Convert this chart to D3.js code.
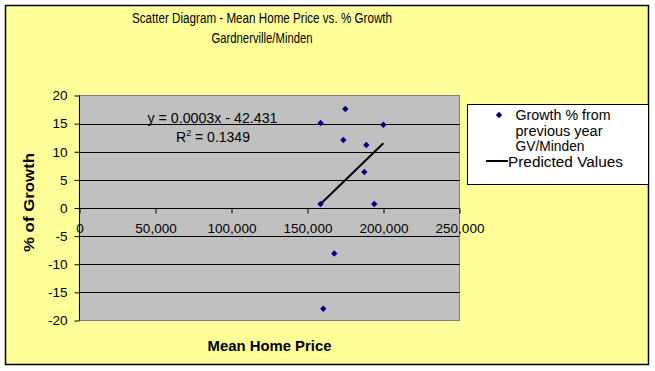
<!DOCTYPE html>
<html>
<head>
<meta charset="utf-8">
<script src="https://cdnjs.cloudflare.com/ajax/libs/d3/7.8.5/d3.min.js"></script>
<style>
	body { margin: 0; background: #fff; }
	svg { display: block; font-family: "Liberation Sans", Arial, sans-serif; }
</style>
</head>
<body>
<div class="chart"></div>
<script>
// data
var prices = [158600, 174900, 199900, 173600, 188700, 187400, 158600, 193900, 167600, 160400];
var growth = [15.1, 17.6, 14.8, 12.1, 11.2, 6.4, 0.7, 0.7, -8.1, -17.9];
var predPrices = [158600, 199900];
var predGrowth = [0.7, 11.5];
var xTicks = [0, 50000, 100000, 150000, 200000, 250000];
var yTicks = [-20, -15, -10, -5, 0, 5, 10, 15, 20];
var titleLines = ["Scatter Diagram - Mean Home Price vs. % Growth", "Gardnerville/Minden"];
var legendLabels = ["Growth % from", "previous year", "GV/Minden", "Predicted Values"];

var colors = {
	bg: "#ffff99",
	plot: "#c0c0c0",
	plotBorder: "#808080",
	marker: "#000080",
	ink: "#000"
};

var W = 655, H = 371;
var plot = {left: 79.5, right: 459.5, top: 95.5, bottom: 320.5};

var svg = d3.select(".chart").append("svg")
	.attr("width", W)
	.attr("height", H);

// chart frame
svg.append("rect")
	.attr("x", 5.5).attr("y", 5.5)
	.attr("width", 643).attr("height", 359)
	.style("fill", colors.bg)
	.style("stroke", colors.ink)
	.style("stroke-width", 1.5);

var x = d3.scaleLinear().domain([0, 250000]).range([plot.left, plot.right]);
var y = d3.scaleLinear().domain([-20, 20]).range([plot.bottom, plot.top]);

// plot area
svg.append("rect")
	.attr("x", plot.left).attr("y", plot.top)
	.attr("width", plot.right - plot.left)
	.attr("height", plot.bottom - plot.top)
	.style("fill", colors.plot)
	.style("stroke", colors.plotBorder)
	.style("stroke-width", 1);

// gridlines
svg.append("g").selectAll("line")
	.data(yTicks.filter(function(d){ return d != 20 && d != -20 && d != 0; }))
	.enter().append("line")
		.attr("x1", plot.left).attr("x2", plot.right)
		.attr("y1", function(d){ return Math.round(y(d)) + 0.5; })
		.attr("y2", function(d){ return Math.round(y(d)) + 0.5; })
		.style("stroke", colors.ink);

var fmtX = d3.format(",");

// y axis
var yAxis = svg.append("g")
	.attr("transform", "translate(" + plot.left + ",0)")
	.call(d3.axisLeft(y).tickValues(yTicks).tickSize(5).tickPadding(7)
		.tickFormat(function(d){ return String(d).replace("\u2212", "-"); }));

// x axis sits on zero
var xAxis = svg.append("g")
	.attr("transform", "translate(0," + (Math.round(y(0)) + 0.5) + ")")
	.call(d3.axisBottom(x).tickValues(xTicks).tickSize(5).tickPadding(10)
		.tickFormat(function(d){ return fmtX(d); }));

[yAxis, xAxis].forEach(function(ax){
	ax.select(".domain").remove();
	ax.selectAll("line").style("stroke", colors.ink);
	ax.selectAll("text")
		.style("font-family", "Liberation Sans, Arial, sans-serif")
		.style("font-size", "13.5px")
		.style("fill", colors.ink);
});

svg.append("line")
	.attr("x1", plot.left).attr("x2", plot.right)
	.attr("y1", Math.round(y(0)) + 0.5).attr("y2", Math.round(y(0)) + 0.5)
	.style("stroke", colors.ink);
svg.append("line")
	.attr("x1", plot.left).attr("x2", plot.left)
	.attr("y1", plot.top).attr("y2", plot.bottom)
	.style("stroke", colors.ink);

// predicted values line
var line = d3.line()
	.x(function(d){ return x(d[0]); })
	.y(function(d){ return y(d[1]); });

svg.append("path")
	.datum(d3.zip(predPrices, predGrowth))
	.attr("d", line)
	.style("fill", "none")
	.style("stroke", colors.ink)
	.style("stroke-width", 2);

// markers
var diamond = d3.symbol().type(d3.symbolDiamond2).size(26);

svg.append("g").selectAll("path")
	.data(d3.zip(prices, growth))
	.enter().append("path")
		.attr("d", diamond)
		.attr("transform", function(d){ return "translate(" + x(d[0]) + "," + y(d[1]) + ")"; })
		.style("fill", colors.marker);

// trendline equation
svg.append("text")
	.attr("x", 147.5).attr("y", 122.5)
	.attr("textLength", 130).attr("lengthAdjust", "spacingAndGlyphs")
	.style("font-size", "14px")
	.text("y = 0.0003x - 42.431");

var r2 = svg.append("text")
	.attr("x", 176).attr("y", 142)
	.style("font-size", "14px");
r2.append("tspan").text("R");
r2.append("tspan").attr("dy", -6).style("font-size", "9px").text("2");
r2.append("tspan").attr("dy", 6).text(" = 0.1349");

// titles
var titleW = [260, 101];
svg.selectAll(".title")
	.data(titleLines)
	.enter().append("text")
		.attr("class", "title")
		.attr("x", function(d, i){ return 262 - titleW[i] / 2; })
		.attr("y", function(d, i){ return 22.7 + i * 20; })
		.attr("textLength", function(d, i){ return titleW[i]; })
		.attr("lengthAdjust", "spacingAndGlyphs")
		.style("font-size", "14px")
		.text(function(d){ return d; });

svg.append("text")
	.attr("x", 207.5).attr("y", 350.5)
	.attr("textLength", 124).attr("lengthAdjust", "spacingAndGlyphs")
	.style("font-size", "15px")
	.style("font-weight", "bold")
	.text("Mean Home Price");

svg.append("text")
	.attr("transform", "translate(33.5,252) rotate(-90)")
	.attr("textLength", 99).attr("lengthAdjust", "spacingAndGlyphs")
	.style("font-size", "15px")
	.style("font-weight", "bold")
	.text("% of Growth");

// legend
var legend = svg.append("g");
legend.append("rect")
	.attr("x", 467.5).attr("y", 104.5)
	.attr("width", 181).attr("height", 80)
	.style("fill", "#fff")
	.style("stroke", colors.ink);

legend.append("path")
	.attr("d", diamond)
	.attr("transform", "translate(499,115)")
	.style("fill", colors.marker);

legend.append("line")
	.attr("x1", 486).attr("x2", 508)
	.attr("y1", 161).attr("y2", 161)
	.style("stroke", colors.ink)
	.style("stroke-width", 2);

var legendY = [119.5, 135.5, 151, 166.5];
var legendW = [95, 87, 69, 115];
legend.selectAll("text")
	.data(legendLabels)
	.enter().append("text")
		.attr("x", function(d, i){ return i == 3 ? 508 : 515.5; })
		.attr("y", function(d, i){ return legendY[i]; })
		.attr("textLength", function(d, i){ return legendW[i]; })
		.attr("lengthAdjust", "spacingAndGlyphs")
		.style("font-size", "14px")
		.text(function(d){ return d; });
</script>
</body>
</html>
